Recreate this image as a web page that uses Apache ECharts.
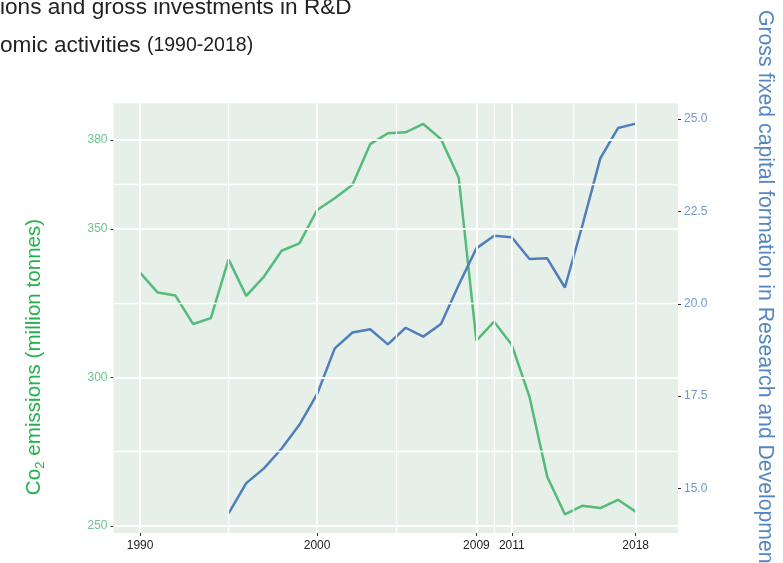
<!DOCTYPE html>
<html>
<head>
<meta charset="utf-8">
<script src="https://cdn.jsdelivr.net/npm/echarts@6/dist/echarts.min.js"></script>
<style>
  html, body { margin: 0; padding: 0; background: #fff; }
  #chart { width: 783px; height: 563px; }
</style>
</head>
<body>
<div id="chart"></div>
<script>
// CO2 emissions (million tonnes), 1990-2018
const years = [1990, 1991, 1992, 1993, 1994, 1995, 1996, 1997, 1998, 1999,
  2000, 2001, 2002, 2003, 2004, 2005, 2006, 2007, 2008, 2009,
  2010, 2011, 2012, 2013, 2014, 2015, 2016, 2017, 2018]
const co2 = [335.3, 328.6, 327.6, 318.0, 320.0, 339.8, 327.5, 334.0, 342.7, 345.2,
  356.4, 360.4, 364.9, 378.6, 382.3, 382.6, 385.4, 380.3, 367.4, 312.4,
  318.8, 311.0, 293.5, 266.6, 253.9, 256.8, 256.0, 258.8, 254.8]

// gross fixed capital formation in R&D, 1995-2018
const rdYears = [1995, 1996, 1997, 1998, 1999, 2000, 2001, 2002, 2003, 2004,
  2005, 2006, 2007, 2008, 2009, 2010, 2011, 2012, 2013, 2014,
  2015, 2016, 2017, 2018]
const rd = [14.32, 15.14, 15.54, 16.08, 16.72, 17.55, 18.79, 19.22, 19.31, 18.90,
  19.35, 19.11, 19.45, 20.51, 21.50, 21.84, 21.80, 21.21, 21.23, 20.44,
  22.14, 23.94, 24.76, 24.88]

// axis breaks
const xTicks = [1990, 2000, 2009, 2011, 2018]
const xMinor = [1995, 2004.5, 2010, 2014.5]
const co2Ticks = [250, 300, 350, 380]
const co2Minor = [275, 325, 365]
const rdTicks = [15, 17.5, 20, 22.5, 25]

const green = '#55bb7a'
const blue = '#4f7fbb'
const tickFont = "'Liberation Sans', Arial, sans-serif"

const chart = echarts.init(document.getElementById('chart'))

const gridLines = []
xTicks.forEach(v => gridLines.push({ xAxis: v, lineStyle: { width: 1.8 } }))
xMinor.forEach(v => gridLines.push({ xAxis: v, lineStyle: { width: 1.3 } }))
co2Ticks.forEach(v => gridLines.push({ yAxis: v, lineStyle: { width: 1.8 } }))
co2Minor.forEach(v => gridLines.push({ yAxis: v, lineStyle: { width: 1.3 } }))

const option = {
  animation: false,
  grid: {
    left: 113.5,
    top: 103.3,
    width: 564.5,
    height: 429.7,
    show: true,
    backgroundColor: '#e7efe9',
    borderWidth: 0,
    outerBoundsMode: 'none'
  },
  xAxis: {
    type: 'value',
    min: 1988.5,
    max: 2020.39,
    axisLine: { show: false },
    splitLine: { show: false },
    axisTick: { show: true, length: 3, customValues: xTicks, lineStyle: { color: '#333' } },
    axisLabel: {
      customValues: xTicks,
      margin: 7,
      fontSize: 12,
      fontFamily: tickFont,
      color: '#222',
      formatter: v => String(v)
    }
  },
  yAxis: [
    {
      type: 'value',
      min: 247.6,
      max: 392.37,
      axisLine: { show: false },
      splitLine: { show: false },
      axisTick: { show: true, length: 3, customValues: co2Ticks, lineStyle: { color: '#333' } },
      axisLabel: {
        customValues: co2Ticks,
        margin: 6,
        fontSize: 12,
        fontFamily: tickFont,
        color: '#6cc48f'
      }
    },
    {
      type: 'value',
      position: 'right',
      min: 13.79,
      max: 25.43,
      axisLine: { show: false },
      splitLine: { show: false },
      axisTick: { show: true, length: 3, customValues: rdTicks, lineStyle: { color: '#333' } },
      axisLabel: {
        customValues: rdTicks,
        margin: 6,
        fontSize: 12,
        fontFamily: tickFont,
        color: '#6f98cc',
        formatter: v => v.toFixed(1)
      }
    }
  ],
  series: [
    {
      // panel grid lines
      type: 'line',
      data: [],
      z: 1,
      silent: true,
      markLine: {
        silent: true,
        symbol: ['none', 'none'],
        label: { show: false },
        lineStyle: { color: '#ffffff', type: 'solid', opacity: 1 },
        emphasis: { disabled: true },
        data: gridLines
      }
    },
    {
      name: 'CO2',
      type: 'line',
      yAxisIndex: 0,
      z: 3,
      showSymbol: false,
      lineStyle: { color: green, width: 2.5 },
      itemStyle: { color: green },
      data: years.map((y, i) => [y, co2[i]])
    },
    {
      name: 'R&D',
      type: 'line',
      yAxisIndex: 1,
      z: 4,
      showSymbol: false,
      lineStyle: { color: blue, width: 2.5 },
      itemStyle: { color: blue },
      data: rdYears.map((y, i) => [y, rd[i]])
    }
  ],
  graphic: [
    {
      type: 'text',
      x: 0,
      y: 8,
      style: {
        text: 'ions and gross investments in R&D',
        fontSize: 22.6,
        fontFamily: "'Liberation Sans', Arial, sans-serif",
        fill: '#222',
        align: 'left',
        verticalAlign: 'middle'
      }
    },
    {
      type: 'text',
      x: 0,
      y: 46,
      style: {
        text: '{a|omic activities }{b|(1990-2018)}',
        fontFamily: "'Liberation Sans', Arial, sans-serif",
        fill: '#222',
        align: 'left',
        verticalAlign: 'middle',
        rich: {
          a: { fontSize: 22.6, fill: '#222' },
          b: { fontSize: 19.5, fill: '#222' }
        }
      }
    },
    {
      type: 'text',
      x: 34,
      y: 357,
      rotation: Math.PI / 2,
      style: {
        text: '{t|Co}{s|2}{t| emissions (million tonnes)}',
        fontFamily: "'Liberation Sans', Arial, sans-serif",
        align: 'center',
        verticalAlign: 'middle',
        rich: {
          t: { fontSize: 20.6, fill: '#22b14c', lineHeight: 22 },
          s: { fontSize: 13.5, fill: '#22b14c', lineHeight: 22, verticalAlign: 'bottom', padding: [0, 0, -2, 0] }
        }
      }
    },
    {
      type: 'text',
      x: 765,
      y: 10,
      rotation: -Math.PI / 2,
      style: {
        text: 'Gross fixed capital formation in Research and Development',
        fontSize: 21.2,
        fontFamily: "'Liberation Sans', Arial, sans-serif",
        fill: '#5586c2',
        align: 'left',
        verticalAlign: 'middle'
      }
    }
  ]
}

chart.setOption(option)
</script>
</body>
</html>
